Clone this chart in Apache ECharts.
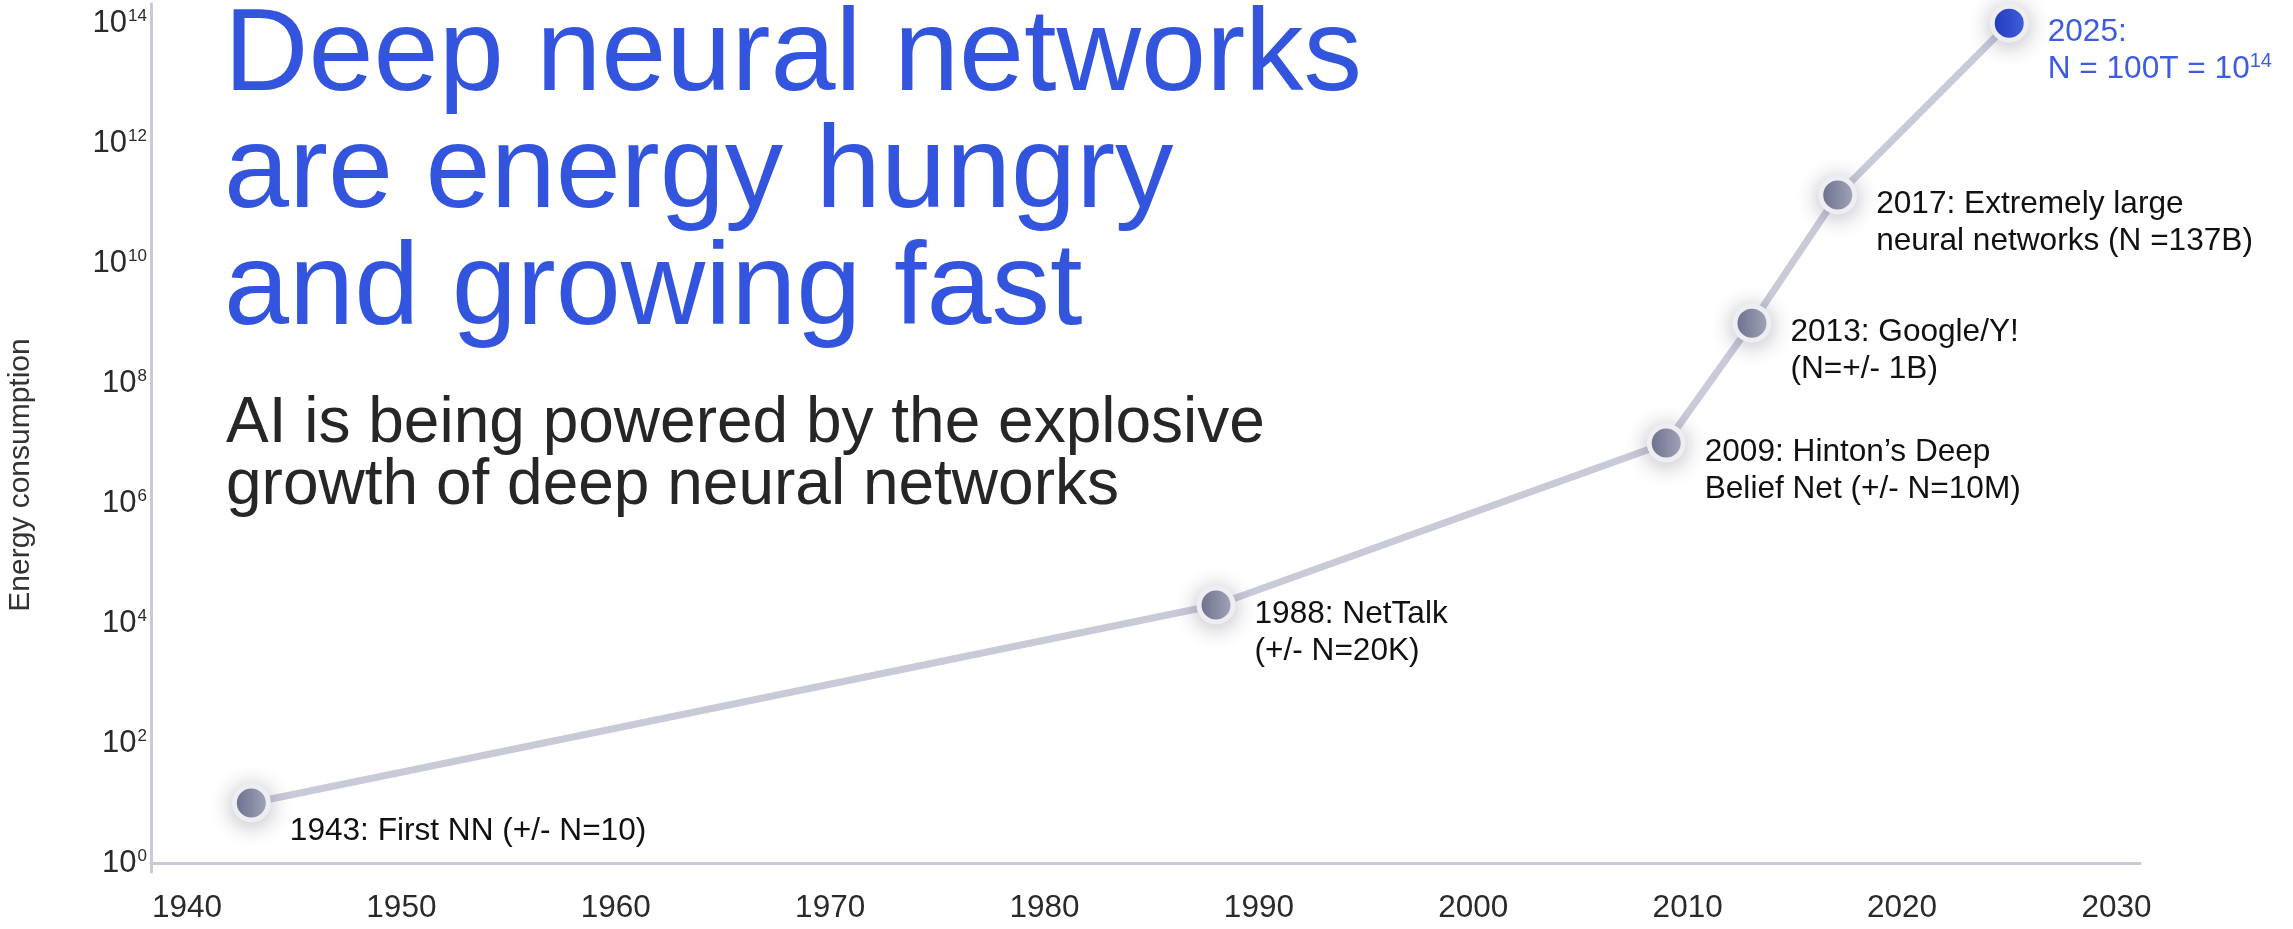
<!DOCTYPE html>
<html>
<head>
<meta charset="utf-8">
<script src="https://cdn.jsdelivr.net/npm/echarts@6/dist/echarts.min.js"></script>
<style>
  html, body { margin: 0; padding: 0; background: #ffffff; }
  #chart { width: 2293px; height: 929px; }
</style>
</head>
<body>
<div id="chart"></div>
<script>
// Milestones in neural network size
const years = [1943, 1988, 2009, 2013, 2017, 2025];
const params = [10, 2e4, 1e7, 1e9, 1.37e11, 1e14];
const notes = [
  '1943: First NN (+/- N=10)',
  '1988: NetTalk\n(+/- N=20K)',
  '2009: Hinton\u2019s Deep\nBelief Net (+/- N=10M)',
  '2013: Google/Y!\n(N=+/- 1B)',
  '2017: Extremely large\nneural networks (N =137B)',
  '2025:\nN = 100T = 10{sup|14}'
];

// Axis ticks
const xTicks = [1940, 1950, 1960, 1970, 1980, 1990, 2000, 2010, 2020, 2030];
const yExponents = [0, 2, 4, 6, 8, 10, 12, 14];

const FONT = '"Liberation Sans", Arial, Helvetica, sans-serif';
const BLUE = '#3355dd';
const LINE = '#c8cad8';

const greyFill = {
  type: 'linear', x: 0, y: 0, x2: 1, y2: 0,
  colorStops: [{ offset: 0, color: '#6c6f8f' }, { offset: 1, color: '#b0b2c4' }]
};
const blueFill = {
  type: 'linear', x: 0, y: 0, x2: 1, y2: 0,
  colorStops: [{ offset: 0, color: '#1e39c2' }, { offset: 1, color: '#4666e8' }]
};

const points = years.map((yr, i) => {
  const last = i === years.length - 1;
  return {
    value: [yr, Math.log10(params[i])],
    itemStyle: { color: last ? blueFill : greyFill },
    label: {
      show: true,
      formatter: notes[i],
      color: last ? '#3d5ce0' : '#111111'
    }
  };
});

const chart = echarts.init(document.getElementById('chart'), null, { renderer: 'canvas' });

chart.setOption({
  backgroundColor: '#ffffff',
  animation: false,
  textStyle: { fontFamily: FONT },
  title: [
    {
      text: 'Deep neural networks\nare energy hungry\nand growing fast',
      left: 219,
      top: -6,
      textStyle: { fontFamily: FONT, fontSize: 117, lineHeight: 117, fontWeight: 'normal', color: BLUE }
    },
    {
      text: 'AI is being powered by the explosive\ngrowth of deep neural networks',
      left: 221,
      top: 388,
      textStyle: { fontFamily: FONT, fontSize: 64, lineHeight: 62, fontWeight: 'normal', color: '#262626' }
    }
  ],
  grid: { left: 151, right: 153, top: 4, bottom: 57, containLabel: false, outerBoundsMode: 'none' },
  xAxis: {
    type: 'value',
    min: 1938.32,
    max: 2031.1,
    axisLine: { show: true, lineStyle: { color: LINE, width: 3 } },
    axisTick: { show: false },
    splitLine: { show: false },
    axisLabel: {
      customValues: xTicks,
      margin: 20,
      fontFamily: FONT,
      fontSize: 31.5,
      color: '#2a2a2a',
      formatter: v => String(v)
    }
  },
  yAxis: {
    type: 'value',
    min: -0.15,
    max: 14.32,
    name: 'Energy consumption',
    nameLocation: 'middle',
    nameGap: 115,
    nameRotate: 90,
    nameTextStyle: { fontFamily: FONT, fontSize: 30, color: '#333333', padding: [0, 74, 0, 0] },
    axisLine: { show: true, lineStyle: { color: LINE, width: 3 } },
    axisTick: { show: false },
    splitLine: { show: false },
    axisLabel: {
      customValues: yExponents,
      margin: 4,
      formatter: v => '{b|10}{s|' + v + '}',
      rich: {
        b: { fontFamily: FONT, fontSize: 31, color: '#2a2a2a' },
        s: { fontFamily: FONT, fontSize: 17, color: '#2a2a2a', verticalAlign: 'top', padding: [0, 0, 0, 1] }
      }
    }
  },
  series: [
    {
      type: 'line',
      data: points,
      clip: false,
      symbol: 'circle',
      symbolSize: 34,
      showSymbol: true,
      lineStyle: { color: LINE, width: 7 },
      itemStyle: {
        borderColor: '#ededf2',
        borderWidth: 5,
        shadowColor: 'rgba(50,50,80,0.30)',
        shadowBlur: 22,
        shadowOffsetY: 3
      },
      label: {
        position: 'right',
        distance: 19,
        offset: [0, 28],
        align: 'left',
        fontFamily: FONT,
        fontSize: 31.6,
        lineHeight: 37,
        rich: {
          sup: { fontFamily: FONT, fontSize: 20, color: '#3d5ce0', verticalAlign: 'top', lineHeight: 37, padding: [0, 0, 8, 0] }
        }
      },
      emphasis: { disabled: true },
      z: 3
    }
  ]
});
</script>
</body>
</html>
